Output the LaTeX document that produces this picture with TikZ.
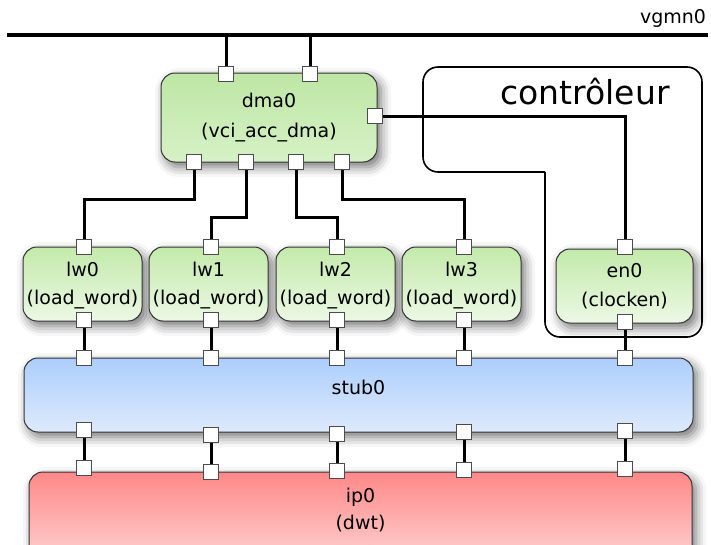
\documentclass[tikz,border=0pt]{standalone}
\usepackage{fontspec}
\setmainfont{DejaVu Sans}
\usetikzlibrary{shadows.blur}
\pgfdeclarelayer{bg}
\pgfdeclarelayer{wires}
\pgfsetlayers{bg,wires,main}
\definecolor{dmatop}{RGB}{190,230,165}
\definecolor{dmabot}{RGB}{214,241,198}
\definecolor{lwtop}{RGB}{195,234,170}
\definecolor{lwbot}{RGB}{236,248,229}
\definecolor{bltop}{RGB}{172,206,252}
\definecolor{blbot}{RGB}{222,234,252}
\definecolor{rdtop}{RGB}{255,136,136}
\definecolor{rdbot}{RGB}{255,226,226}
\begin{document}
\begin{tikzpicture}[x=1pt,y=-1pt,
  box/.style={draw=black!80, line width=1pt, rounded corners=14pt, inner sep=0pt,
    blur shadow={shadow xshift=4pt, shadow yshift=-5pt, shadow blur radius=10pt, shadow opacity=55}},
  greenbox/.style={box, top color=lwtop, bottom color=lwbot},
  port/.style={draw=black!70, fill=white, line width=1pt, minimum size=15pt, inner sep=0pt},
  wire/.style={line width=3pt, black},
  lbl/.style={font=\fontsize{19}{21}\selectfont, inner sep=0pt, anchor=base}]
\useasboundingbox (0,0) rectangle (711,544);
\clip (0,0) rectangle (711,544);

% ---------- boxes ----------
\begin{pgfonlayer}{bg}
\node[box, top color=dmatop, bottom color=dmabot, minimum width=216pt, minimum height=89pt] (dma0) at (269,117.5) {};
\node[greenbox, minimum width=119pt, minimum height=74pt] (lw0) at (82.5,284) {};
\node[greenbox, minimum width=119pt, minimum height=74pt] (lw1) at (208.5,284) {};
\node[greenbox, minimum width=119pt, minimum height=74pt] (lw2) at (335.5,284) {};
\node[greenbox, minimum width=119pt, minimum height=74pt] (lw3) at (461.5,284) {};
\node[greenbox, minimum width=137pt, minimum height=74pt] (en0) at (624.5,286) {};
\node[box, top color=bltop, bottom color=blbot, minimum width=669pt, minimum height=74pt] (stub0) at (358.5,395) {};
\node[box, top color=rdtop, bottom color=rdbot, minimum width=663pt, minimum height=110pt] (ip0) at (360.5,527) {};
\end{pgfonlayer}

% ---------- labels ----------
\node[lbl] (vg) at (673,23) {vgmn0};
\node[lbl, font=\fontsize{33}{36}\selectfont] (ctl) at (585,104) {contrôleur};
\node[lbl] (t1) at (269,107) {dma0};
\node[lbl] (t2) at (269,137) {(vci\_acc\_dma)};
\node[lbl] (t3) at (82.5,276) {lw0};
\node[lbl] (t4) at (82.5,304) {(load\_word)};
\node[lbl] (t5) at (208.5,276) {lw1};
\node[lbl] (t6) at (208.5,304) {(load\_word)};
\node[lbl] (t7) at (335.5,276) {lw2};
\node[lbl] (t8) at (335.5,304) {(load\_word)};
\node[lbl] (t9) at (461.5,276) {lw3};
\node[lbl] (t10) at (461.5,304) {(load\_word)};
\node[lbl] (t11) at (624.5,277) {en0};
\node[lbl] (t12) at (624.5,306) {(clocken)};
\node[lbl] (t13) at (358.5,394) {stub0};
\node[lbl] (t14) at (360.5,502) {ip0};
\node[lbl] (t15) at (360.5,529) {(dwt)};

% ---------- ports ----------
\node[port] (dt1) at (226,74) {};
\node[port] (dt2) at (310,74) {};
\node[port] (dr) at (375,116) {};
\node[port] (db1) at (194,162) {};
\node[port] (db2) at (246,162) {};
\node[port] (db3) at (296,162) {};
\node[port] (db4) at (342,162) {};
\node[port] (l0t) at (84,247) {};
\node[port] (l1t) at (211,247) {};
\node[port] (l2t) at (337,247) {};
\node[port] (l3t) at (464,247) {};
\node[port] (ent) at (625,247) {};
\node[port] (l0b) at (84,320) {};
\node[port] (l1b) at (211,320) {};
\node[port] (l2b) at (337,320) {};
\node[port] (l3b) at (464,320) {};
\node[port] (enb) at (625,322) {};
\node[port] (s0t) at (84,358) {};
\node[port] (s1t) at (211,358) {};
\node[port] (s2t) at (337,358) {};
\node[port] (s3t) at (464,358) {};
\node[port] (s4t) at (625,358) {};
\node[port] (s0b) at (84,430) {};
\node[port] (s1b) at (211,435) {};
\node[port] (s2b) at (337,434) {};
\node[port] (s3b) at (464,432) {};
\node[port] (s4b) at (625,431) {};
\node[port] (i0t) at (84,468) {};
\node[port] (i1t) at (211,472) {};
\node[port] (i2t) at (337,471) {};
\node[port] (i3t) at (464,470) {};
\node[port] (i4t) at (625,469) {};

\coordinate (busL) at (7,35);
\coordinate (busR) at (708,35);
\coordinate (j1) at (140,199);
\coordinate (j2) at (230,217);
\coordinate (j3) at (320,217);
\coordinate (j4) at (400,199);

% ---------- wires ----------
\begin{pgfonlayer}{wires}
\draw[line width=3.2pt] (busL) -- (busR);
\draw[wire] (dt1) -- (dt1 |- busL);
\draw[wire] (dt2) -- (dt2 |- busL);
\draw[wire] (db1) |- (j1) -| (l0t);
\draw[wire] (db2) |- (j2) -| (l1t);
\draw[wire] (db3) |- (j3) -| (l2t);
\draw[wire] (db4) |- (j4) -| (l3t);
\draw[wire] (dr) -| (ent);
\draw[line width=1.6pt, rounded corners=15pt, line cap=square]
  (545,172) -- (423,172) -- (423,67) -- (702,67) -- (702,337) -- (545,337) -- (545,172);
\foreach \a/\b in {l0b/s0t,l1b/s1t,l2b/s2t,l3b/s3t,enb/s4t,s0b/i0t,s1b/i1t,s2b/i2t,s3b/i3t,s4b/i4t}
  \draw[wire] (\a) -- (\b);
\end{pgfonlayer}
\end{tikzpicture}
\end{document}
